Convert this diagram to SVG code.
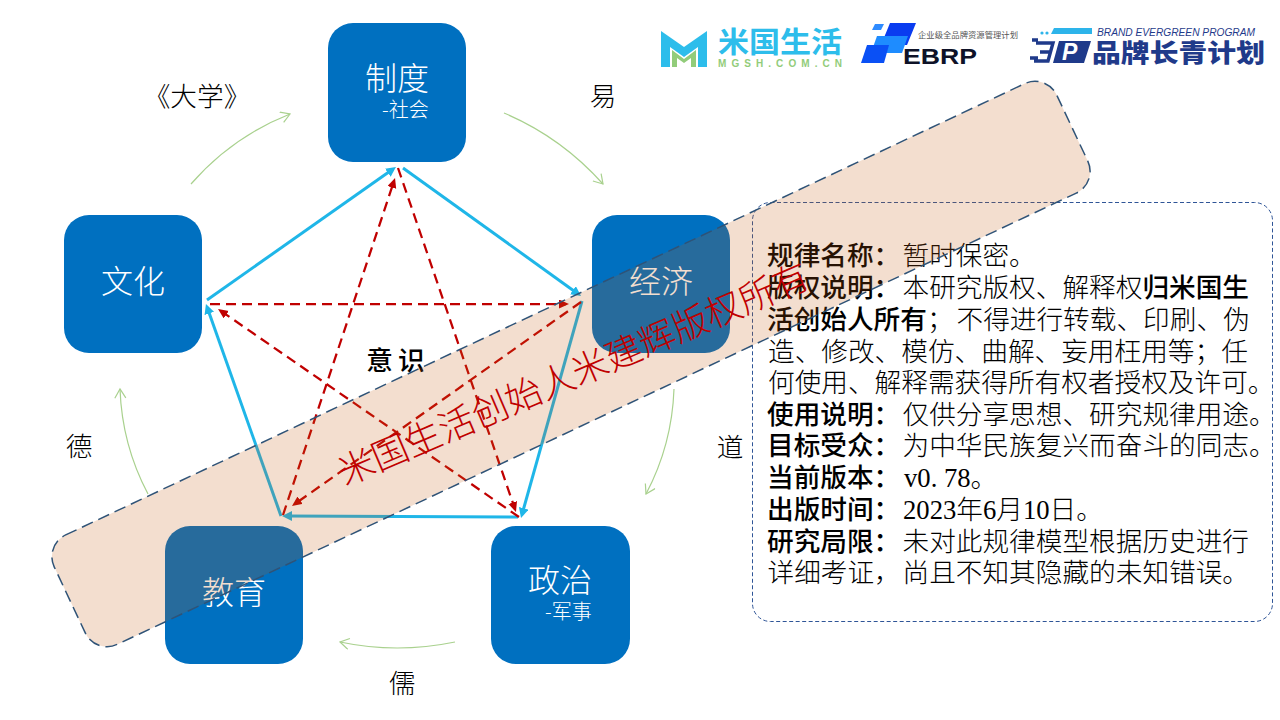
<svg xmlns="http://www.w3.org/2000/svg" width="1280" height="720" viewBox="0 0 1280 720">
<style>
text{font-family:"Noto Sans CJK SC","Liberation Sans",sans-serif}
.node{fill:#0070C0}
.nt{fill:#fff;font-size:32px;font-weight:300;text-anchor:middle}
.ns{fill:#fff;font-size:20px;font-weight:300}
.lb{fill:#000;font-size:26.67px;font-weight:300;text-anchor:middle}
.blue{fill:none;stroke:#1FB6E8;stroke-width:3;marker-end:url(#ab)}
.red{fill:none;stroke:#C00000;stroke-width:2.25;stroke-dasharray:10 6;marker-end:url(#ar)}
.green{fill:none;stroke:#A9D18E;stroke-width:1.2;marker-end:url(#ag)}
.info{font-size:26.67px;font-weight:300;fill:#000}
.info .b{font-weight:500}
.mono{font-family:"Liberation Serif","Noto Sans CJK SC",serif}
</style>
<defs>
<marker id="ab" markerUnits="userSpaceOnUse" markerWidth="12" markerHeight="12" refX="6" refY="5" orient="auto"><path d="M0 0L10 5L0 10Z" fill="#1FB6E8"/></marker>
<marker id="ar" markerUnits="userSpaceOnUse" markerWidth="12" markerHeight="12" refX="7" refY="4.5" orient="auto"><path d="M0 0L10 4.5L0 9Z" fill="#C00000"/></marker>
<marker id="ag" markerUnits="userSpaceOnUse" markerWidth="12" markerHeight="14" refX="10" refY="6" orient="auto"><path d="M1 0.5L10 6L1 11.5" fill="none" stroke="#A9D18E" stroke-width="1.2"/></marker>
</defs>
<rect width="1280" height="720" fill="#fff"/>
<g id="node-zhidu"><rect class="node" x="328" y="23" width="138" height="139" rx="25"/><text class="nt" x="397" y="89.5">制度</text><text class="ns" x="382" y="117">-社会</text></g>
<g id="node-wenhua"><rect class="node" x="64" y="215" width="138" height="138" rx="25"/><text class="nt" x="133" y="292.5">文化</text></g>
<g id="node-jingji"><rect class="node" x="592" y="215" width="138" height="138" rx="25"/><text class="nt" x="661" y="292.5">经济</text></g>
<g id="node-jiaoyu"><rect class="node" x="165" y="526" width="138" height="138" rx="25"/><text class="nt" x="234" y="603.5">教育</text></g>
<g id="node-zhengzhi"><rect class="node" x="491" y="526" width="139" height="138" rx="25"/><text class="nt" x="560" y="591.5">政治</text><text class="ns" x="545" y="619">-军事</text></g>
<g id="labels">
<text class="lb" x="197" y="106">《大学》</text>
<text class="lb" x="603" y="106">易</text>
<text class="lb" x="730" y="457">道</text>
<text class="lb" x="79" y="456">德</text>
<text class="lb" x="402" y="693">儒</text>
<text class="lb" x="398" y="370" style="font-weight:500" letter-spacing="5">意识</text>
</g>
<g id="connectors">
<path class="blue" d="M207 300L392.7 169.3"/>
<path class="blue" d="M403 168L577.8 293.7"/>
<path class="blue" d="M582 301L522.1 514.1"/>
<path class="blue" d="M518 517L286 516"/>
<path class="blue" d="M281 516L207.3 307.8"/>
<path class="red" d="M398 168L515 509.2"/>
<path class="red" d="M519 517L220.5 310.7"/>
<path class="red" d="M210 304L566 304"/>
<path class="red" d="M581 302L294.4 504.3"/>
<path class="red" d="M283 515L394.1 180.8"/>
<path class="green" d="M191 184Q232 137 290 114"/>
<path class="green" d="M504 113Q561 137 603 184"/>
<path class="green" d="M674 389Q672 445 646 494"/>
<path class="green" d="M455 642Q397 654 340 642"/>
<path class="green" d="M148 494Q122 445 120 389"/>
</g>
<g id="info-box">
<rect x="752.5" y="202.5" width="520" height="419" rx="18" fill="none" stroke="#2F5597" stroke-width="1" stroke-dasharray="4 2.5"/>
<text class="info" x="767" y="265"><tspan class="b">规律名称：</tspan><tspan x="902.5">暂时保密。</tspan></text>
<text class="info" x="767" y="297"><tspan class="b">版权说明：</tspan><tspan x="902.5">本研究版权、解释权</tspan><tspan class="b">归米国生</tspan></text>
<text class="info" x="767" y="329"><tspan class="b">活创始人所有</tspan>；<tspan x="956.5">不得进行转载、印刷、伪</tspan></text>
<text class="info" x="768" y="360.5">造、修改、模仿、曲解、妄用枉用等；任</text>
<text class="info" x="768" y="392">何使用、解释需获得所有权者授权及许可。</text>
<text class="info" x="767" y="423.7"><tspan class="b">使用说明：</tspan><tspan x="902.5">仅供分享思想、研究规律用途。</tspan></text>
<text class="info" x="767" y="455.4"><tspan class="b">目标受众：</tspan><tspan x="902.5">为中华民族复兴而奋斗的同志。</tspan></text>
<text class="info" x="767" y="487.1"><tspan class="b">当前版本：</tspan><tspan class="mono" x="904 917.3 930.7 944 957.3">v0.78</tspan><tspan x="970.6">。</tspan></text>
<text class="info" x="767" y="518.8"><tspan class="b">出版时间：</tspan><tspan class="mono" x="903">2023</tspan><tspan>年</tspan><tspan class="mono">6</tspan><tspan>月</tspan><tspan class="mono">10</tspan><tspan>日。</tspan></text>
<text class="info" x="767" y="550.5"><tspan class="b">研究局限：</tspan><tspan x="902.5">未对此规律模型根据历史进行</tspan></text>
<text class="info" x="767.5" y="582"><tspan>详细考证，</tspan><tspan x="902.5">尚且不知其隐藏的未知错误。</tspan></text>
</g>
<g id="logo-mgsh">
<path d="M661 31L684 47L707 31V67H698V47L684 57L670 47V67H661Z" fill="#2DBDEB"/>
<path d="M672 67V50L684 59L696 50V67H691V58L684 63L677 58V67Z" fill="#92CC7A"/>
<text x="718" y="53" font-size="29" font-weight="700" fill="#2DBDEB" textLength="124" lengthAdjust="spacingAndGlyphs">米国生活</text>
<text x="718" y="67" font-size="10" font-weight="700" fill="#92CC7A" textLength="124" style="font-family:'Liberation Sans',sans-serif">MGSH.COM.CN</text>
</g>
<g id="logo-ebrp">
<path d="M875 24H884L881 30H872Z" fill="#2F8BFF"/>
<path d="M890 23H916L907 45H881Z" fill="#0A3CF0"/>
<path d="M877 36H908L902 53H871Z" fill="#1E8CFF"/>
<path d="M867 45H889L884 63H861Z" fill="#0A50F5"/>
<text x="918" y="38" font-size="8.3" fill="#555" textLength="100">企业级全品牌资源管理计划</text>
<text x="903" y="64" font-size="22.5" font-weight="700" fill="#0E1228" textLength="74" lengthAdjust="spacingAndGlyphs" style="font-family:'Liberation Sans',sans-serif">EBRP</text>
</g>
<g id="logo-brand">
<path d="M1054 28H1092V34H1051Z" fill="#2DB4EA"/>
<circle cx="1042" cy="33" r="1.6" fill="#2DB4EA"/><circle cx="1047" cy="33" r="1.6" fill="#2DB4EA"/>
<path d="M1032 40H1038M1030 58H1038M1036 43H1053L1048 61H1034M1040 52H1050" fill="none" stroke="#1F3A8A" stroke-width="3.4"/>
<path d="M1059 41H1091L1084 63H1053Z" fill="#1F3A8A"/>
<text x="1062" y="60" font-size="23" font-weight="700" font-style="italic" fill="#fff" style="font-family:'Liberation Sans',sans-serif">P</text>
<text x="1097" y="36" font-size="10" font-style="italic" font-weight="400" fill="#1F3A8A" textLength="158" lengthAdjust="spacingAndGlyphs" style="font-family:'Liberation Sans',sans-serif">BRAND EVERGREEN PROGRAM</text>
<text x="1092" y="62" font-size="25" font-weight="900" fill="#1F3A8A" textLength="173" lengthAdjust="spacingAndGlyphs">品牌长青计划</text>
</g>
<g id="watermark-band">
<rect x="17" y="303.5" width="1108" height="121" rx="24" transform="rotate(-25.2 571 364)" fill="#C55A11" fill-opacity=".2" stroke="#2F5377" stroke-width="1.5" stroke-dasharray="12 6"/>
<text x="573.5" y="387" font-size="36.3" font-weight="300" fill="#C00000" text-anchor="middle" transform="rotate(-23.2 573.5 374)">米国生活创始人米建辉版权所有</text>
</g>
</svg>
